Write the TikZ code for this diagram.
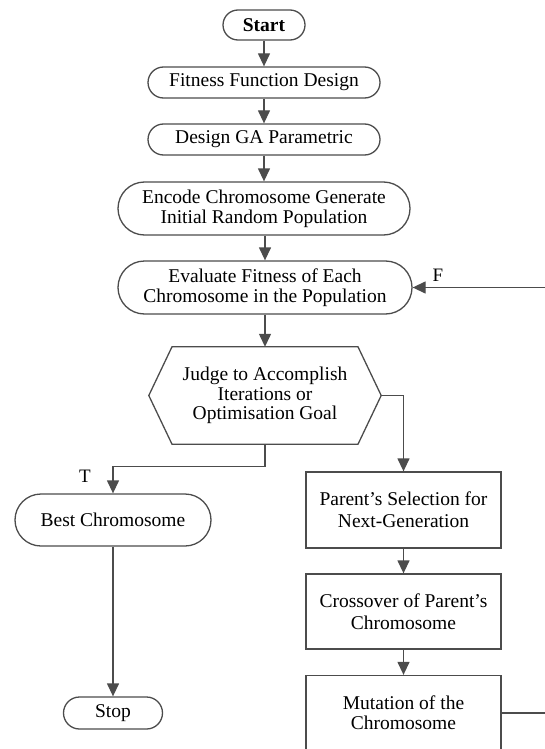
\documentclass[tikz,border=0pt]{standalone}
\usepackage{fontspec}
\setmainfont{Liberation Serif}
\usetikzlibrary{arrows.meta,calc}
\begin{document}
\begin{tikzpicture}[x=1pt,y=-1pt,
  txt/.style={font=\fontsize{19.5}{20}\selectfont, text=black, align=center, inner sep=0pt},
  ln/.style={draw=black!70, line width=1.3pt},
  termbox/.style={txt, ln, rectangle},
  procbox/.style={txt, ln, rectangle, font=\fontsize{19.5}{22}\selectfont},
  arr/.style={ln, -{Triangle[length=13pt,width=12pt]}},
  lbl/.style={font=\fontsize{19}{20}\selectfont, text=black, inner sep=0pt}
]
\useasboundingbox (0,0) rectangle (545,749);

\node[termbox, minimum width=82pt, minimum height=30pt, rounded corners=15pt] (start) at (264,25) {\textbf{Start}};
\node[termbox, minimum width=232pt, minimum height=31pt, rounded corners=15.5pt] (fit) at (264,82.5) {Fitness Function Design};
\node[termbox, minimum width=232pt, minimum height=31pt, rounded corners=15.5pt] (ga) at (264,139.5) {Design GA Parametric};
\node[termbox, minimum width=292pt, minimum height=53pt, rounded corners=26.5pt] (enc) at (264,208.5) {Encode Chromosome Generate\\Initial Random Population};
\node[termbox, minimum width=294pt, minimum height=53pt, rounded corners=26.5pt] (eval) at (265,287.5) {Evaluate Fitness of Each\\Chromosome in the Population};

\node[txt, minimum width=232pt, minimum height=97pt, font=\fontsize{19.5}{19.5}\selectfont] (judge) at (265,395.5) {Judge to Accomplish\\Iterations or\\Optimisation Goal};
\draw[ln] (judge.west) -- ($(judge.north)+(-93,0)$) -- ($(judge.north)+(93,0)$) -- (judge.east)
  -- ($(judge.south)+(93,0)$) -- ($(judge.south)+(-93,0)$) -- cycle;

\node[termbox, minimum width=196pt, minimum height=52pt, rounded corners=26pt] (best) at (113,520) {Best Chromosome};
\node[termbox, minimum width=99pt, minimum height=32pt, rounded corners=16pt] (stop) at (113,713) {Stop};

\node[procbox, minimum width=195pt, minimum height=76pt] (par) at (403.5,510) {Parent’s Selection for\\Next-Generation};
\node[procbox, minimum width=195pt, minimum height=75pt] (cross) at (403.5,611.5) {Crossover of Parent’s\\Chromosome};
\node[procbox, minimum width=195pt, minimum height=75pt, font=\fontsize{19.5}{20}\selectfont] (mut) at (403.5,713) {Mutation of the\\Chromosome};

\draw[arr] (start) -- (fit);
\draw[arr] (fit) -- (ga);
\draw[arr] (ga) -- (enc);
\draw[arr] (enc.south -| eval.south) -- (eval);
\draw[arr] (eval) -- (judge.north);
\draw[arr] (judge.south) -- ++(0,22) -| (best.north);
\draw[arr] (judge.east) -| (par.north);
\draw[arr] (par) -- (cross);
\draw[arr] (cross) -- (mut);
\draw[arr] (best) -- (stop);
\coordinate (loop) at (565,713);
\draw[arr] (mut.east) -- (loop) |- (eval.east);

\node[lbl] (tl) at (85,476) {T};
\node[lbl] (fl) at (438,275) {F};
\end{tikzpicture}
\end{document}
